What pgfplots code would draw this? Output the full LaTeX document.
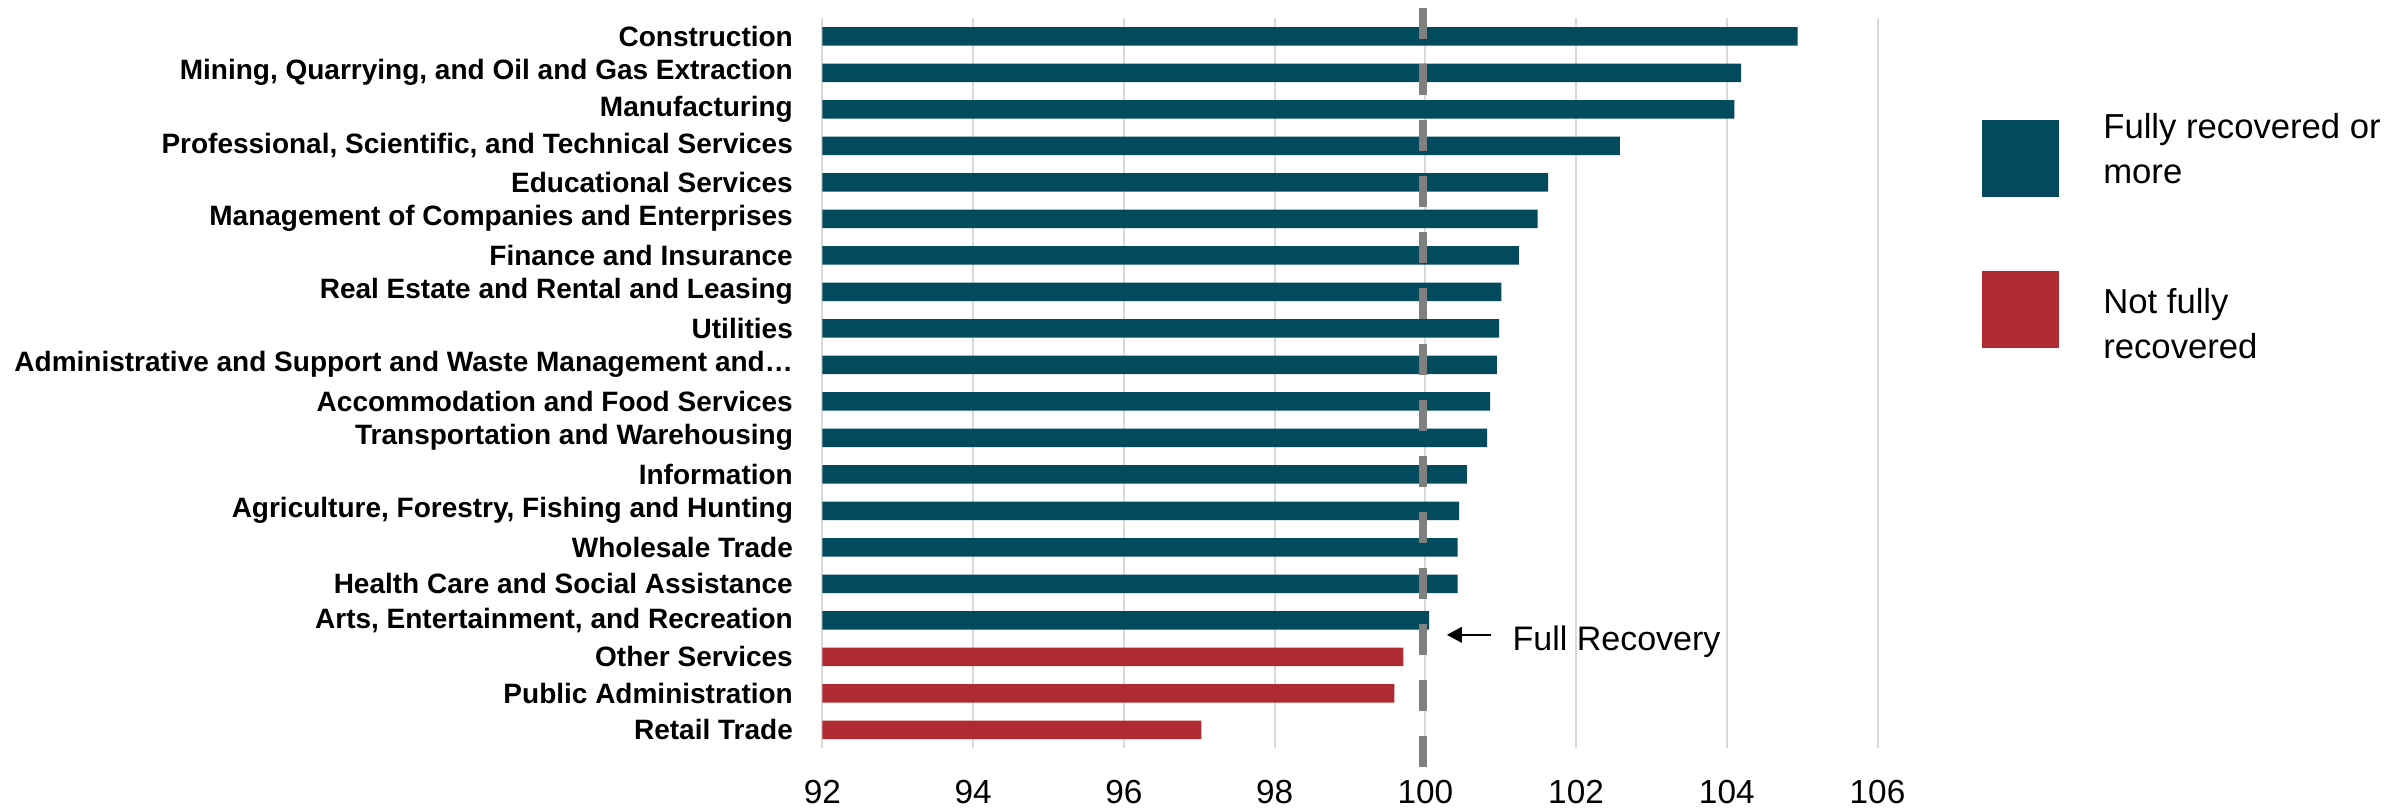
\documentclass[border=0pt]{standalone}
\usepackage{pgfplots}
\pgfplotsset{compat=1.18}
\usepackage{fontspec}
\setmainfont{Liberation Sans}
\usetikzlibrary{arrows.meta}
\definecolor{recblue}{HTML}{024B5E}
\definecolor{recred}{HTML}{AF2B33}
\definecolor{dashgray}{HTML}{808080}
\definecolor{gridgray}{HTML}{D9D9D9}
\begin{document}
\begin{tikzpicture}
\path[use as bounding box] (0,0) rectangle (721.2pt,-243.3pt);
\begin{axis}[
  at={(246.72pt,-5.4pt)}, anchor=north west,
  scale only axis, width=316.53pt, height=219pt,
  xmin=92, xmax=106, ymin=-0.5, ymax=19.5, y dir=reverse,
  xtick={92,94,...,106}, ytick={0,...,19},
  yticklabels={Construction,{Mining, Quarrying, and Oil and Gas Extraction},Manufacturing,{Professional, Scientific, and Technical Services},Educational Services,Management of Companies and Enterprises,Finance and Insurance,Real Estate and Rental and Leasing,Utilities,Administrative and Support and Waste Management and…,Accommodation and Food Services,Transportation and Warehousing,Information,{Agriculture, Forestry, Fishing and Hunting},Wholesale Trade,Health Care and Social Assistance,{Arts, Entertainment, and Recreation},Other Services,Public Administration,Retail Trade},
  xmajorgrids, ymajorgrids=false,
  grid style={draw=gridgray, line width=0.6pt},
  axis line style={draw=none},
  major tick length=0pt,
  xbar, bar width=5.55pt,
  /pgf/number format/assume math mode=true,
  xticklabel style={font=\fontsize{10}{12}\selectfont, anchor=north, inner sep=0pt, yshift=-9.6pt},
  yticklabel style={font=\fontsize{8.4}{10}\selectfont\bfseries, anchor=east, inner sep=0pt, xshift=-8.67pt},
  legend cell align=left,
  legend style={draw=none, fill=none, at={(1,1)}, anchor=north west, xshift=31.35pt, yshift=-28.65pt,
    inner sep=0pt, outer sep=0pt, row sep=22.2pt, column sep=13.3pt,
    font=\fontsize{10.4}{13.5}\selectfont, nodes={inner sep=0pt, align=left}},
]
\addplot[fill=recblue, draw=none, bar shift=0pt,
  legend image code/.code={\fill[recblue] (0pt,-13.68pt) rectangle (23.1pt,9.42pt);}]
  coordinates {(104.94,0) (104.19,1) (104.10,2) (102.58,3) (101.63,4) (101.49,5) (101.24,6) (101.01,7) (100.98,8) (100.95,9) (100.86,10) (100.82,11) (100.55,12) (100.45,13) (100.43,14) (100.43,15) (100.05,16)};
\addlegendentry{Fully recovered or\\more}
\addplot[fill=recred, draw=none, bar shift=0pt,
  legend image code/.code={\fill[recred] (0pt,-6.48pt) rectangle (23.1pt,16.62pt);}]
  coordinates {(99.71,17) (99.59,18) (97.03,19)};
\addlegendentry{Not fully\\recovered}
\end{axis}
\begin{axis}[
  at={(246.72pt,-5.4pt)}, anchor=north west,
  scale only axis, width=316.53pt, height=219pt,
  xmin=92, xmax=106, ymin=-0.5, ymax=19.5, y dir=reverse,
  hide axis, clip=false,
]
\addplot[dashgray, line width=2.3pt, dash pattern=on 9.5pt off 7.3pt] coordinates {(99.965,-0.781) (99.965,20.03)};
\addplot[black, line width=0.8pt, -{Triangle[length=4.5pt,width=4.6pt]}] coordinates {(100.87,16.4) (100.285,16.4)};
\node[anchor=base west, inner sep=0pt, font=\fontsize{10.2}{12}\selectfont] at (axis cs:101.15,16.82) {Full Recovery};
\end{axis}
\end{tikzpicture}
\end{document}
